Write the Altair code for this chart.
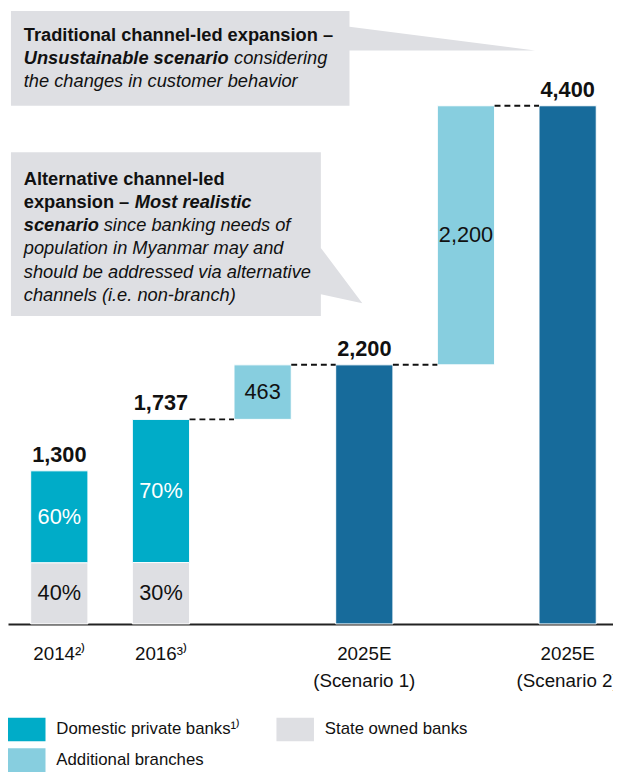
import altair as alt
import pandas as pd

FONT = "Liberation Sans, Arial, sans-serif"

# ---------------- data ----------------
categories = ["2014", "2016", "add_1", "2025E_S1", "add_2", "2025E_S2"]
axis_labels = ["2014²⁾", "2016³⁾", "", "2025E\n(Scenario 1)", "", "2025E\n(Scenario 2)"]

hist_years = ["2014", "2016"]
hist_totals = [1300, 1737]
private_share = [60, 70]   # % domestic private banks
state_share = [40, 30]     # % state owned banks

additional_cats = ["add_1", "add_2"]
additional_values = [463, 2200]

scenario_cats = ["2025E_S1", "2025E_S2"]
scenario_totals = [2200, 4400]

series_names = ["Domestic private banks¹⁾", "State owned banks", "Additional branches", "Total"]
series_colors = ["#00ACC8", "#DEDFE3", "#87CEDF", "#176B9B"]

# ---------------- tables ----------------
seg_rows, inner_rows, total_rows, conn_rows = [], [], [], []
for cat, tot, ps, ss in zip(hist_years, hist_totals, private_share, state_share):
    s_top = tot * ss / 100
    seg_rows.append(dict(cat=cat, series=series_names[1], y0=0, y1=s_top))
    seg_rows.append(dict(cat=cat, series=series_names[0], y0=s_top, y1=tot))
    inner_rows.append(dict(cat=cat, mid=s_top / 2, label=f"{ss}%", tc="#111111"))
    inner_rows.append(dict(cat=cat, mid=(s_top + tot) / 2, label=f"{ps}%", tc="#FFFFFF"))
    total_rows.append(dict(cat=cat, top=tot, label=f"{tot:,}"))

bases = [hist_totals[-1], scenario_totals[0]]
prev_cats = [hist_years[-1], scenario_cats[0]]
for cat, val, base, prev, nxt in zip(additional_cats, additional_values, bases, prev_cats, scenario_cats):
    seg_rows.append(dict(cat=cat, series=series_names[2], y0=base, y1=base + val))
    inner_rows.append(dict(cat=cat, mid=base + val / 2, label=f"{val:,}", tc="#111111"))
    conn_rows.append(dict(frm=prev, to=cat, value=base))
    conn_rows.append(dict(frm=cat, to=nxt, value=base + val))

for cat, tot in zip(scenario_cats, scenario_totals):
    seg_rows.append(dict(cat=cat, series=series_names[3], y0=0, y1=tot))
    total_rows.append(dict(cat=cat, top=tot, label=f"{tot:,}"))

seg_df = pd.DataFrame(seg_rows)
inner_df = pd.DataFrame(inner_rows)
total_df = pd.DataFrame(total_rows)
conn_df = pd.DataFrame(conn_rows)
one = pd.DataFrame({"k": [0]})

# ---------------- scales / axes ----------------
expr = "''"
for c, l in reversed(list(zip(categories, axis_labels))):
    expr = f"datum.value == '{c}' ? '{l.replace(chr(10), '|')}' : ({expr})"
label_expr = f"split({expr}, '|')"

xscale = alt.Scale(domain=categories, range=[0, 619], paddingInner=0.437, paddingOuter=0.223)
xaxis = alt.Axis(title=None, labelExpr=label_expr, ticks=False, labelAngle=0,
                 labelFont=FONT, labelFontSize=19, labelColor="#111111",
                 labelPadding=21, labelLineHeight=27, labelOverlap=False,
                 labelBound=False, labelFlush=False,
                 domainColor="#222222", domainWidth=2, grid=False)
yscale = alt.Scale(domain=[0, 4400], range=[619, 94])


def X(field, **kw):
    return alt.X(field, type="nominal", scale=xscale, axis=xaxis, sort=categories, **kw)


def Y(field):
    return alt.Y(field, type="quantitative", scale=yscale, axis=None)


CS = 18.5  # callout font size


def txt(s, x, y, size=CS, weight="normal", style="normal", align="left"):
    return alt.Chart(one).mark_text(
        text=s, font=FONT, fontSize=size, fontWeight=weight, fontStyle=style,
        color="#111111", align=align, baseline="alphabetic"
    ).encode(x=alt.value(x), y=alt.value(y))


GREY = "#DEDFE3"

# ---------------- callouts ----------------
callout1 = alt.Chart(one).mark_point(
    shape="M0,0H343V16L531,40L343,40V96H0Z", size=4, filled=True,
    color=GREY, opacity=1, strokeWidth=0
).encode(x=alt.value(3), y=alt.value(-2))
callout2 = alt.Chart(one).mark_point(
    shape="M0,0H314V97L356,153L314,144V166H0Z", size=4, filled=True,
    color=GREY, opacity=1, strokeWidth=0
).encode(x=alt.value(3), y=alt.value(141))

callout_text = [
    txt("Traditional channel-led expansion –", 16, 28, weight="bold"),
    txt("Unsustainable scenario", 16, 51.5, weight="bold", style="italic"),
    txt("considering", 229, 51.5, style="italic"),
    txt("the changes in customer behavior", 16, 75, style="italic"),
    txt("Alternative channel-led", 16, 174, weight="bold"),
    txt("expansion –", 16, 197.5, weight="bold"),
    txt("Most realistic", 128.5, 197.5, weight="bold", style="italic"),
    txt("scenario", 16, 221, weight="bold", style="italic"),
    txt("since banking needs of", 97, 221, style="italic"),
    txt("population in Myanmar may and", 16, 244.5, style="italic"),
    txt("should be addressed via alternative", 16, 268, style="italic"),
    txt("channels (i.e. non-branch)", 16, 291.5, style="italic"),
]

# ---------------- data layers ----------------
bars = alt.Chart(seg_df).mark_bar(stroke="white", strokeWidth=1).encode(
    x=X("cat"), y=Y("y0"), y2="y1:Q",
    color=alt.Color("series:N", scale=alt.Scale(domain=series_names, range=series_colors), legend=None),
)

connectors = alt.Chart(conn_df).mark_rule(strokeDash=[6, 4], strokeWidth=2, color="#111111").encode(
    x=X("frm", bandPosition=1), x2=alt.X2("to", bandPosition=0), y=Y("value")
)

inner_labels = alt.Chart(inner_df).mark_text(font=FONT, fontSize=22, baseline="middle").encode(
    x=X("cat"), y=Y("mid"), text="label:N", color=alt.Color("tc:N", scale=None)
)

total_labels = alt.Chart(total_df).mark_text(font=FONT, fontSize=22, fontWeight="bold",
                                             baseline="alphabetic", dy=-9, color="#111111").encode(
    x=X("cat"), y=Y("top"), text="label:N"
)

# ---------------- legend ----------------
def swatch(color, x, y):
    return alt.Chart(one).mark_rect(color=color).encode(
        x=alt.value(x), x2=alt.value(x + 38), y=alt.value(y), y2=alt.value(y + 24))


def ltxt(s, x, y):
    return alt.Chart(one).mark_text(text=s, font=FONT, fontSize=17, color="#111111",
                                    align="left", baseline="middle").encode(x=alt.value(x), y=alt.value(y))


legend = [
    swatch(series_colors[0], 0, 714), ltxt(series_names[0], 49, 726),
    swatch(series_colors[1], 272, 714), ltxt(series_names[1], 321, 726),
    swatch(series_colors[2], 0, 745), ltxt(series_names[2], 49, 757),
]

chart = alt.layer(
    callout1, callout2, *callout_text, bars, connectors, inner_labels, total_labels, *legend
).properties(
    width=613, height=619,
    padding={"left": 0, "right": 0, "top": 0, "bottom": 148},
    autosize=alt.AutoSizeParams(type="none"),
).configure_view(stroke=None)

chart.save("out.html", embed_options={"renderer": "svg", "actions": False})
